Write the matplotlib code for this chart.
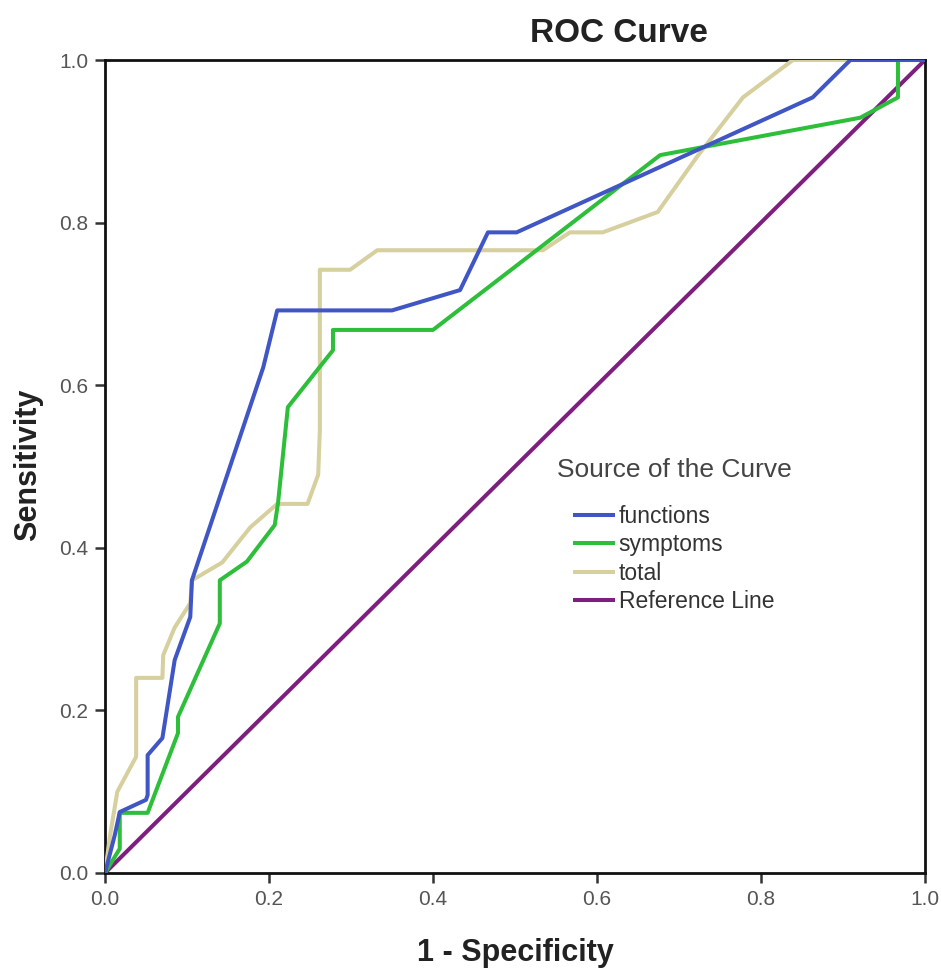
import matplotlib
matplotlib.use("Agg")
import matplotlib.pyplot as plt
from matplotlib.lines import Line2D

plt.rcParams['font.family'] = ['Liberation Sans', 'DejaVu Sans']

# --- data ---
func_x = [0, 0.012, 0.018, 0.05, 0.052, 0.052, 0.07, 0.085, 0.104, 0.106, 0.193, 0.21, 0.35, 0.433, 0.467, 0.502, 0.863, 0.909, 1.0]
func_y = [0, 0.047, 0.075, 0.09, 0.096, 0.145, 0.166, 0.262, 0.315, 0.36, 0.622, 0.692, 0.692, 0.717, 0.788, 0.788, 0.954, 1.0, 1.0]

symp_x = [0, 0.018, 0.018, 0.052, 0.089, 0.089, 0.14, 0.14, 0.173, 0.207, 0.211, 0.223, 0.278, 0.278, 0.40, 0.677, 0.921, 0.967, 0.967, 1.0]
symp_y = [0, 0.03, 0.074, 0.074, 0.172, 0.192, 0.307, 0.36, 0.383, 0.428, 0.455, 0.573, 0.643, 0.668, 0.668, 0.883, 0.929, 0.954, 1.0, 1.0]

total_x = [0, 0.006, 0.015, 0.038, 0.038, 0.070, 0.071, 0.085, 0.104, 0.106, 0.143, 0.177, 0.21, 0.247, 0.26, 0.262, 0.262, 0.299, 0.332, 0.534, 0.567, 0.607, 0.674, 0.722, 0.778, 0.839, 1.0]
total_y = [0, 0.045, 0.10, 0.143, 0.24, 0.24, 0.268, 0.302, 0.332, 0.360, 0.382, 0.425, 0.454, 0.454, 0.49, 0.545, 0.742, 0.742, 0.766, 0.766, 0.788, 0.788, 0.813, 0.881, 0.954, 1.0, 1.0]

ref_x = [0, 1]
ref_y = [0, 1]

series_labels = ["functions", "symptoms", "total", "Reference Line"]
series_colors = ["#3F56C4", "#2DBE3A", "#D6CF9E", "#7E1F80"]
ticks = [0.0, 0.2, 0.4, 0.6, 0.8, 1.0]
tick_labels = ["0.0", "0.2", "0.4", "0.6", "0.8", "1.0"]

fig = plt.figure(figsize=(9.41, 9.73), dpi=100)
ax = fig.add_axes([105/941, 1-873/973, 820/941, 813/973])

lw = 2.9
ax.plot(ref_x, ref_y, color=series_colors[3], lw=lw, zorder=2)
ax.plot(total_x, total_y, color=series_colors[2], lw=lw, zorder=3)
ax.plot(symp_x, symp_y, color=series_colors[1], lw=lw, zorder=4)
ax.plot(func_x, func_y, color=series_colors[0], lw=lw, zorder=5)

ax.set_xlim(0, 1)
ax.set_ylim(0, 1)
ax.set_xticks(ticks)
ax.set_yticks(ticks)
ax.set_xticklabels(tick_labels)
ax.set_yticklabels(tick_labels)
ax.tick_params(axis='both', direction='out', length=7, width=1.8, color='#333333',
               labelsize=15, labelcolor='#555555', pad=5)
for s in ax.spines.values():
    s.set_linewidth(2.0)
    s.set_color('#111111')

fig.text(619/941, 1-34/973, "ROC Curve", ha='center', va='center',
         fontsize=24, fontweight='bold', color='#222222')
fig.text(515/941, 1-953/973, "1 - Specificity", ha='center', va='center',
         fontsize=22, fontweight='bold', color='#222222')
fig.text(28/941, 1-465/973, "Sensitivity", ha='center', va='center', rotation=90,
         fontsize=22, fontweight='bold', color='#222222')

fig.text(557/941, 1-470/973, "Source of the Curve", ha='left', va='center',
         fontsize=19, color='#444444')

handles = [Line2D([0], [0], color=c, lw=lw) for c in series_colors]
leg = fig.legend(handles, series_labels, loc='upper left',
                 bbox_to_anchor=(575/941, 1-505/973), frameon=False,
                 fontsize=16.5, handlelength=1.65, handletextpad=0.25,
                 labelspacing=0.24, borderpad=0, borderaxespad=0)
for t in leg.get_texts():
    t.set_color('#333333')

fig.savefig("out.png", dpi=100)
